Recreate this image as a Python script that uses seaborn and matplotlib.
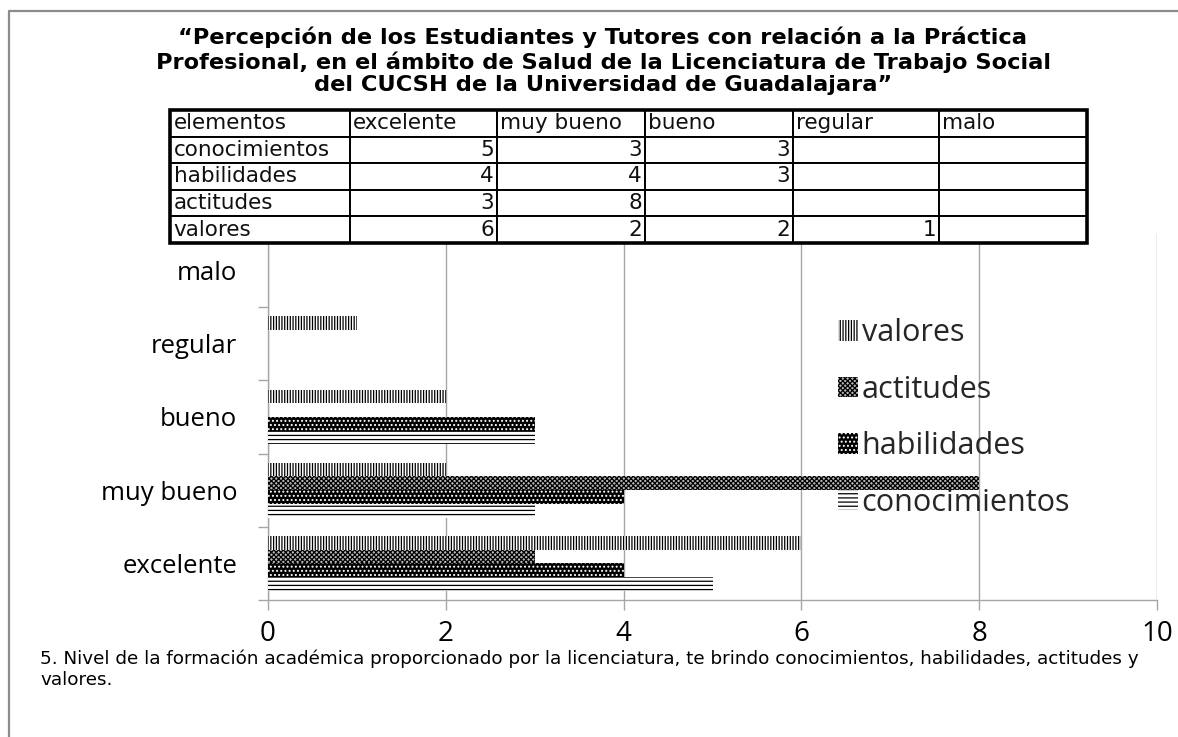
import numpy as np
import pandas as pd
import matplotlib
matplotlib.use("Agg")
import matplotlib.pyplot as plt
import seaborn as sns
from matplotlib.patches import Patch
from matplotlib.lines import Line2D

# ---------------- data ----------------
niveles = ["excelente", "muy bueno", "bueno", "regular", "malo"]
elementos = ["conocimientos", "habilidades", "actitudes", "valores"]
conocimientos = [5, 3, 3, None, None]
habilidades = [4, 4, 3, None, None]
actitudes = [3, 8, None, None, None]
valores = [6, 2, 2, 1, None]
x_ticks = [0, 2, 4, 6, 8, 10]

titulo = ("\u201cPercepción de los Estudiantes y Tutores con relación a la Práctica\n"
          "Profesional, en el ámbito de Salud de la Licenciatura de Trabajo Social\n"
          "del CUCSH de la Universidad de Guadalajara\u201d")
nota = ("5. Nivel de la formación académica proporcionado por la licenciatura, te brindo "
        "conocimientos, habilidades, actitudes y\nvalores.")

series = {"conocimientos": conocimientos, "habilidades": habilidades,
          "actitudes": actitudes, "valores": valores}

# ---------------- style ----------------
sns.set_theme(style="white")
plt.rcParams["font.family"] = ["Open Sans", "DejaVu Sans"]
plt.rcParams["hatch.linewidth"] = 0.9

W, H = 1178, 737
fig = plt.figure(figsize=(W / 100, H / 100), dpi=100)


def fx(px):
    return px / W


def fy(py):
    return 1 - py / H


# outer frame (left and top border)
fig.add_artist(Line2D([fx(9), fx(9)], [fy(11), 0], color="#8c8c8c", lw=1.6,
                      transform=fig.transFigure))
fig.add_artist(Line2D([fx(9), 1], [fy(11), fy(11)], color="#8c8c8c", lw=1.6,
                      transform=fig.transFigure))

ax = fig.add_axes([fx(268), fy(600), fx(1157) - fx(268), fy(234) - fy(600)])

rows = []
for el, vals in series.items():
    for niv, v in zip(niveles, vals):
        if v is not None:
            rows.append({"nivel": niv, "elemento": el, "valor": v})
df = pd.DataFrame(rows)

order = niveles[::-1]
hue_order = elementos[::-1]

sns.barplot(data=df, x="valor", y="nivel", hue="elemento", order=order,
            hue_order=hue_order, orient="h", width=0.75, dodge=True,
            errorbar=None, legend=False, ax=ax, linewidth=0, zorder=3)

styles = {
    "valores": dict(facecolor="white", edgecolor="black", hatch="||||||"),
    "actitudes": dict(facecolor="#b8b8b8", edgecolor="black", hatch="xxxxxxx"),
    "habilidades": dict(facecolor="black", edgecolor="white", hatch="...."),
    "conocimientos": dict(facecolor="white", edgecolor="black", hatch="----"),
}
for i, cont in enumerate(ax.containers):
    lab = cont.get_label()
    el = lab if lab in styles else hue_order[i]
    for p in cont:
        p.set_facecolor(styles[el]["facecolor"])
        p.set_edgecolor(styles[el]["edgecolor"])
        p.set_hatch(styles[el]["hatch"])
        p.set_linewidth(0)

ax.set_xlim(0, 10)
ax.set_ylim(4.5, -0.5)
ax.set_xticks(x_ticks)
ax.set_xticklabels([str(t) for t in x_ticks])
ax.set_xlabel("")
ax.set_ylabel("")
ax.grid(axis="x", color="#a6a6a6", lw=1.0, zorder=0)
ax.grid(axis="y", visible=False)
for s in ["top", "right"]:
    ax.spines[s].set_visible(False)
for s in ["left", "bottom"]:
    ax.spines[s].set_color("#a6a6a6")
    ax.spines[s].set_linewidth(1.0)
ax.tick_params(axis="x", which="major", length=7.2, width=1.0, color="#a6a6a6",
               direction="out", bottom=True, labelsize=20, pad=7, labelcolor="black")
ax.tick_params(axis="y", which="major", length=0, pad=22, labelsize=18.5,
               labelcolor="black")
ax.set_yticks(np.arange(-0.5, 5.0, 1.0), minor=True)
ax.tick_params(axis="y", which="minor", length=7.2, width=1.0, color="#a6a6a6",
               direction="out", left=True)

handles = [Patch(label=el, linewidth=0, **styles[el]) for el in hue_order]
ax.legend(handles=handles, loc="center left",
          bbox_to_anchor=((838 - 268) / 889, (600 - 418) / 366),
          frameon=False, fontsize=22, handlelength=0.65, handleheight=0.65,
          handletextpad=0.12, labelspacing=0.87, borderpad=0, borderaxespad=0)

# ---------------- table ----------------
tax = fig.add_axes([fx(170), fy(243), fx(1087) - fx(170), fy(110) - fy(243)],
                   zorder=5)
tax.axis("off")
header = ["elementos"] + niveles
cell_rows = [header]
for el in elementos:
    cell_rows.append([el] + ["" if v is None else str(v) for v in series[el]])
col_px = [180, 147, 148, 148, 146, 148]
col_w = [c / sum(col_px) for c in col_px]
tbl = tax.table(cellText=cell_rows, colWidths=col_w, bbox=[0, 0, 1, 1],
                cellLoc="left")
tbl.auto_set_font_size(False)
for (r, c), cell in tbl.get_celld().items():
    cell.PAD = 0.02
    cell.set_linewidth(1.4)
    cell.set_edgecolor("black")
    cell.set_facecolor("white")
    txt = cell.get_text()
    txt.set_fontsize(15.5)
    txt.set_family(["DejaVu Sans"])
    txt.set_color("#101010")
    if r > 0 and c > 0:
        cell._loc = "right"
        txt.set_ha("right")
tax.add_patch(plt.Rectangle((0, 0), 1, 1, transform=tax.transAxes, fill=False,
                            lw=2.6, edgecolor="black", zorder=10, clip_on=False))

# ---------------- title and note ----------------
fig.text(fx(603), fy(61), titulo, ha="center", va="center", fontsize=16.2,
         fontweight="bold", family=["DejaVu Sans"],
         linespacing=1.17, color="black")
fig.text(fx(40), fy(669), nota, ha="left", va="center", fontsize=13.2,
         family=["DejaVu Sans"], linespacing=1.22, color="black")

fig.savefig("out.png", dpi=100)
